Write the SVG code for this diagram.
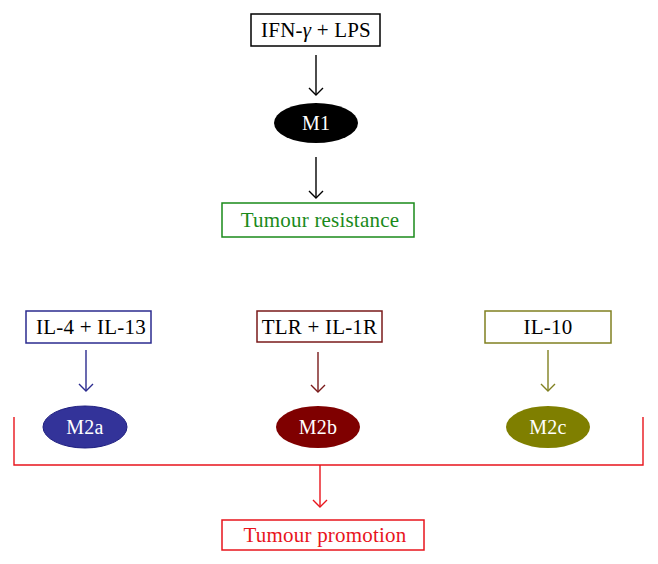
<svg xmlns="http://www.w3.org/2000/svg" width="658" height="564" viewBox="0 0 658 564">
<style>
text{font-family:"Liberation Serif","Times New Roman",serif;font-size:21px;text-anchor:middle;dominant-baseline:central;letter-spacing:0.2px}
.box{fill:#fff;stroke-width:1.5}
.ln{fill:none;stroke-width:1.4}
.w{fill:#fff;font-size:20px}
</style>
<defs>
<marker id="ak" markerWidth="16" markerHeight="16" refX="8" refY="8" markerUnits="userSpaceOnUse" orient="auto"><path d="M1,1 L8,8 L1,15" fill="none" stroke="#000" stroke-width="1.4"/></marker>
<marker id="ab" markerWidth="16" markerHeight="16" refX="8" refY="8" markerUnits="userSpaceOnUse" orient="auto"><path d="M1,1 L8,8 L1,15" fill="none" stroke="#2b2b8f" stroke-width="1.4"/></marker>
<marker id="ar" markerWidth="16" markerHeight="16" refX="8" refY="8" markerUnits="userSpaceOnUse" orient="auto"><path d="M1,1 L8,8 L1,15" fill="none" stroke="#7a1a1a" stroke-width="1.4"/></marker>
<marker id="ao" markerWidth="16" markerHeight="16" refX="8" refY="8" markerUnits="userSpaceOnUse" orient="auto"><path d="M1,1 L8,8 L1,15" fill="none" stroke="#808020" stroke-width="1.4"/></marker>
<marker id="ae" markerWidth="16" markerHeight="16" refX="8" refY="8" markerUnits="userSpaceOnUse" orient="auto"><path d="M1,1 L8,8 L1,15" fill="none" stroke="#e8141c" stroke-width="1.4"/></marker>
</defs>
<g id="connectors">
<line class="ln" x1="316" y1="55" x2="316" y2="95" stroke="#000" marker-end="url(#ak)"/>
<line class="ln" x1="316" y1="157" x2="316" y2="198" stroke="#000" marker-end="url(#ak)"/>
<line class="ln" x1="86" y1="350" x2="86" y2="391" stroke="#2b2b8f" marker-end="url(#ab)"/>
<line class="ln" x1="318" y1="352" x2="318" y2="392" stroke="#7a1a1a" marker-end="url(#ar)"/>
<line class="ln" x1="548" y1="350" x2="548" y2="391" stroke="#808020" marker-end="url(#ao)"/>
<polyline class="ln" points="14,417 14,465 643,465 643,417" stroke="#e8141c"/>
<line class="ln" x1="320" y1="465" x2="320" y2="507" stroke="#e8141c" marker-end="url(#ae)"/>
</g>
<g id="ifn">
<rect class="box" x="251" y="14" width="129" height="32" stroke="#000"/>
<text x="316" y="30">IFN-<tspan font-style="italic">γ</tspan> + LPS</text>
</g>
<g id="m1">
<ellipse cx="316" cy="123" rx="42" ry="20" fill="#000"/>
<text class="w" x="316" y="123">M1</text>
</g>
<g id="resistance">
<rect class="box" x="222" y="203" width="192" height="34" stroke="#1a8a1a"/>
<text x="320" y="220" fill="#1a8a1a">Tumour resistance</text>
</g>
<g id="il4">
<rect class="box" x="26" y="311" width="125" height="32" stroke="#2b2b8f"/>
<text x="91" y="327">IL-4 + IL-13</text>
</g>
<g id="tlr">
<rect class="box" x="257" y="311" width="125" height="31" stroke="#7a1a1a"/>
<text x="319.5" y="326.5">TLR + IL-1R</text>
</g>
<g id="il10">
<rect class="box" x="485" y="311" width="126" height="32" stroke="#808020"/>
<text x="548" y="327">IL-10</text>
</g>
<g id="m2a">
<ellipse cx="85" cy="427" rx="42" ry="21" fill="#333399" stroke="#1f1f80"/>
<text class="w" x="85" y="427">M2a</text>
</g>
<g id="m2b">
<ellipse cx="318" cy="427" rx="42" ry="21" fill="#7f0000"/>
<text class="w" x="318" y="427">M2b</text>
</g>
<g id="m2c">
<ellipse cx="548" cy="427" rx="42" ry="21" fill="#7f7f00"/>
<text class="w" x="548" y="427">M2c</text>
</g>
<g id="promotion">
<rect class="box" x="222" y="520" width="202" height="30" stroke="#e8141c"/>
<text x="325" y="535" fill="#e8141c">Tumour promotion</text>
</g>
</svg>
